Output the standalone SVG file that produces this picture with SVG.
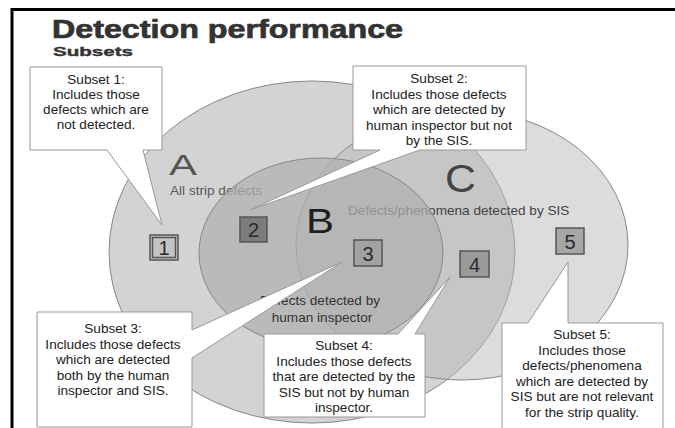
<svg xmlns="http://www.w3.org/2000/svg" width="675" height="428" viewBox="0 0 675 428">
<style>
text{font-family:"Liberation Sans",Arial,sans-serif}
.frame{stroke:#000;stroke-width:3;fill:none}
.ell{stroke:#878787;stroke-width:1}
.lbl{font-size:13.6px;fill:#444}
.box path{fill:#fff;stroke:#999;stroke-width:1}
.box text{font-size:13.6px;fill:#222;text-anchor:middle}
.sq rect{stroke:#555;stroke-width:1.5}
.sq text{font-size:20px;fill:#2a2a2a;text-anchor:middle}
</style>
<rect width="675" height="428" fill="#fff"/>
<path class="frame" d="M12,428 V9.5 H675"/>
<text x="52" y="37.5" font-size="25" font-weight="900" fill="#333" stroke="#333" stroke-width="0.7" textLength="351" lengthAdjust="spacingAndGlyphs">Detection performance</text>
<text x="53" y="55.5" font-size="13.5" font-weight="900" fill="#333" stroke="#333" stroke-width="0.4" textLength="80" lengthAdjust="spacingAndGlyphs">Subsets</text>

<g id="setA">
<ellipse class="ell" cx="312" cy="252" rx="203" ry="171" fill="#d3d3d3"/>
</g>
<g id="setC">
<ellipse class="ell" cx="462" cy="245" rx="166" ry="135" fill="#bababa" fill-opacity="0.5"/>
</g>
<text class="lbl" x="170" y="195" style="fill:#5a5a5a">All strip defects</text>
<text class="lbl" x="348" y="215">Defects/phenomena detected by SIS</text>
<text x="169" y="175" font-size="29" fill="#555" textLength="28" lengthAdjust="spacingAndGlyphs">A</text>
<text x="445" y="192" font-size="38" fill="#444" textLength="31" lengthAdjust="spacingAndGlyphs">C</text>
<g id="setB">
<ellipse class="ell" cx="321" cy="253" rx="122" ry="95" fill="#b0b0b0" fill-opacity="0.72"/>
</g>
<text x="306" y="233" font-size="35" fill="#1e1e1e" textLength="28" lengthAdjust="spacingAndGlyphs">B</text>
<text class="lbl" x="320" y="305" text-anchor="middle" style="fill:#333">Defects detected by</text>
<text class="lbl" x="322" y="322" text-anchor="middle" style="fill:#333">human inspector</text>

<g id="sq1" class="sq"><rect x="150" y="235" width="28" height="25" fill="#c4c4c4"/><rect x="152.5" y="237.5" width="23" height="20" fill="none" stroke="#e6e6e6" stroke-width="1"/><text x="164" y="255">1</text></g>
<g id="sq2" class="sq"><rect x="240" y="217" width="27" height="25" fill="#7c7c7c"/><text x="253.5" y="237">2</text></g>
<g id="sq3" class="sq"><rect x="354" y="240" width="28" height="26" fill="#a2a2a2"/><text x="368" y="260.5">3</text></g>
<g id="sq4" class="sq"><rect x="460" y="251" width="29" height="26" fill="#9a9a9a"/><text x="474.5" y="271.5">4</text></g>
<g id="sq5" class="sq"><rect x="556" y="228" width="28" height="26" fill="#a6a6a6"/><text x="570" y="248.5">5</text></g>

<g id="connectors"></g>

<g id="box1" class="box">
<path d="M30,67 H162 V150 H143 L162,225 L107,150 H30 Z"/>
<text x="96" y="84">Subset 1:</text>
<text x="96" y="99">Includes those</text>
<text x="96" y="114">defects which are</text>
<text x="96" y="129">not detected.</text>
</g>
<g id="box2" class="box">
<path d="M353,66 H526 V150 H420 L250,210 L380,150 H353 Z"/>
<text x="439" y="83">Subset 2:</text>
<text x="439" y="98.5">Includes those defects</text>
<text x="439" y="114">which are detected by</text>
<text x="439" y="129.5">human inspector but not</text>
<text x="439" y="145">by the SIS.</text>
</g>
<g id="box3" class="box">
<path d="M37,312 H192 V330 L342,262 L192,358 V427 H37 Z"/>
<text x="113" y="333">Subset 3:</text>
<text x="113" y="348.5">Includes those defects</text>
<text x="113" y="364">which are detected</text>
<text x="113" y="379.5">both by the human</text>
<text x="113" y="395">inspector and SIS.</text>
</g>
<g id="box4" class="box">
<path d="M264,334 H398 L450,277 L415,334 H425 V417 H264 Z"/>
<text x="344" y="350">Subset 4:</text>
<text x="344" y="365.5">Includes those defects</text>
<text x="344" y="381">that are detected by the</text>
<text x="344" y="396.5">SIS but not by human</text>
<text x="344" y="412">inspector.</text>
</g>
<g id="box5" class="box">
<path d="M502,323 H528 L568,262 V323 H663 V440 H502 Z"/>
<text x="582" y="339">Subset 5:</text>
<text x="582" y="354.5">Includes those</text>
<text x="582" y="370">defects/phenomena</text>
<text x="582" y="385.5">which are detected by</text>
<text x="582" y="401">SIS but are not relevant</text>
<text x="582" y="416.5">for the strip quality.</text>
</g>
</svg>
